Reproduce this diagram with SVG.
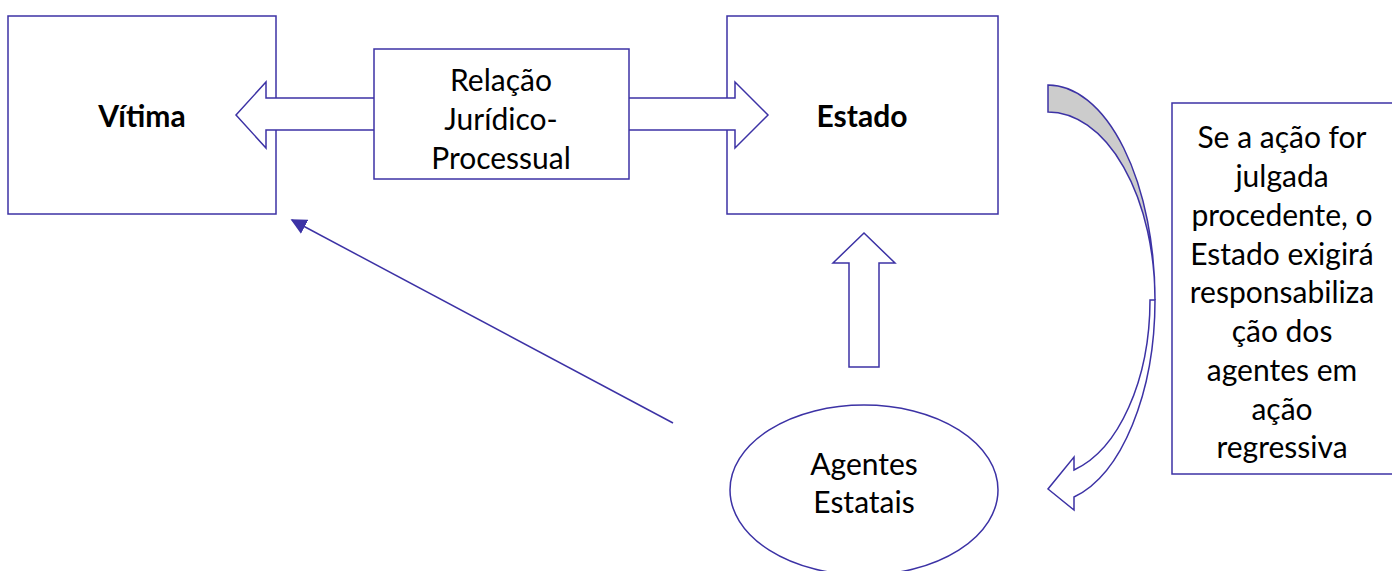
<svg xmlns="http://www.w3.org/2000/svg" width="1392" height="571" viewBox="0 0 1392 571">
<defs>
<style>
.s{fill:#fff;stroke:#3C32A5;stroke-width:1.5}
.t{font-family:Lato,"Open Sans",sans-serif;font-size:30px;fill:#000;text-anchor:middle}
.b{font-weight:bold}
</style>
<marker id="ah" viewBox="0 0 10 10" refX="9" refY="5" markerWidth="16" markerHeight="16" markerUnits="userSpaceOnUse" orient="auto">
<path d="M0,0 L10,5 L0,10 Z" fill="#3C32A5"/>
</marker>
</defs>
<rect width="1392" height="571" fill="#fff"/>
<g id="vitima">
<rect class="s" x="8" y="16" width="268" height="198"/>
<text class="t b" x="142" y="127">Vítima</text>
</g>
<g id="estado">
<rect class="s" x="727" y="16" width="271" height="198"/>
<text class="t b" x="862" y="127">Estado</text>
</g>
<g id="agentes">
<ellipse class="s" cx="864" cy="490" rx="134" ry="85"/>
<text class="t" x="864" y="475">Agentes</text>
<text class="t" x="864" y="513">Estatais</text>
</g>
<g id="nota">
<rect class="s" x="1172" y="103" width="230" height="371"/>
<text class="t" x="1282" y="148">Se a ação for</text>
<text class="t" x="1282" y="187">julgada</text>
<text class="t" x="1282" y="226">procedente, o</text>
<text class="t" x="1282" y="265">Estado exigirá</text>
<text class="t" x="1282" y="303">responsabiliza</text>
<text class="t" x="1282" y="342">ção dos</text>
<text class="t" x="1282" y="381">agentes em</text>
<text class="t" x="1282" y="420">ação</text>
<text class="t" x="1282" y="458">regressiva</text>
</g>
<g id="connectors">
<path class="s" d="M236,115 L266,82 L266,98 L735,98 L735,82 L768,115 L735,148 L735,130 L266,130 L266,148 Z"/>
<path class="s" d="M864,233 L895,263 L879,263 L879,367 L849,367 L849,263 L833,263 Z"/>
<line x1="673" y1="423" x2="292" y2="220" stroke="#3C32A5" stroke-width="1.5" marker-end="url(#ah)"/>
<path d="M1048,85 A107,215 0 0 1 1155,300 A107,188 0 0 0 1048,112 Z" fill="#CCCCCC" stroke="#3C32A5" stroke-width="1.5"/>
<path class="s" d="M1155,300 A107,203 0 0 1 1074,497 L1074,510 L1048,489 L1074,457 L1074,470 A102,176 0 0 0 1150,300 Z"/>
</g>
<g id="relacao">
<rect class="s" x="374" y="49" width="255" height="130"/>
<text class="t" x="501" y="91">Relação</text>
<text class="t" x="501" y="130">Jurídico-</text>
<text class="t" x="501" y="169">Processual</text>
</g>
</svg>
